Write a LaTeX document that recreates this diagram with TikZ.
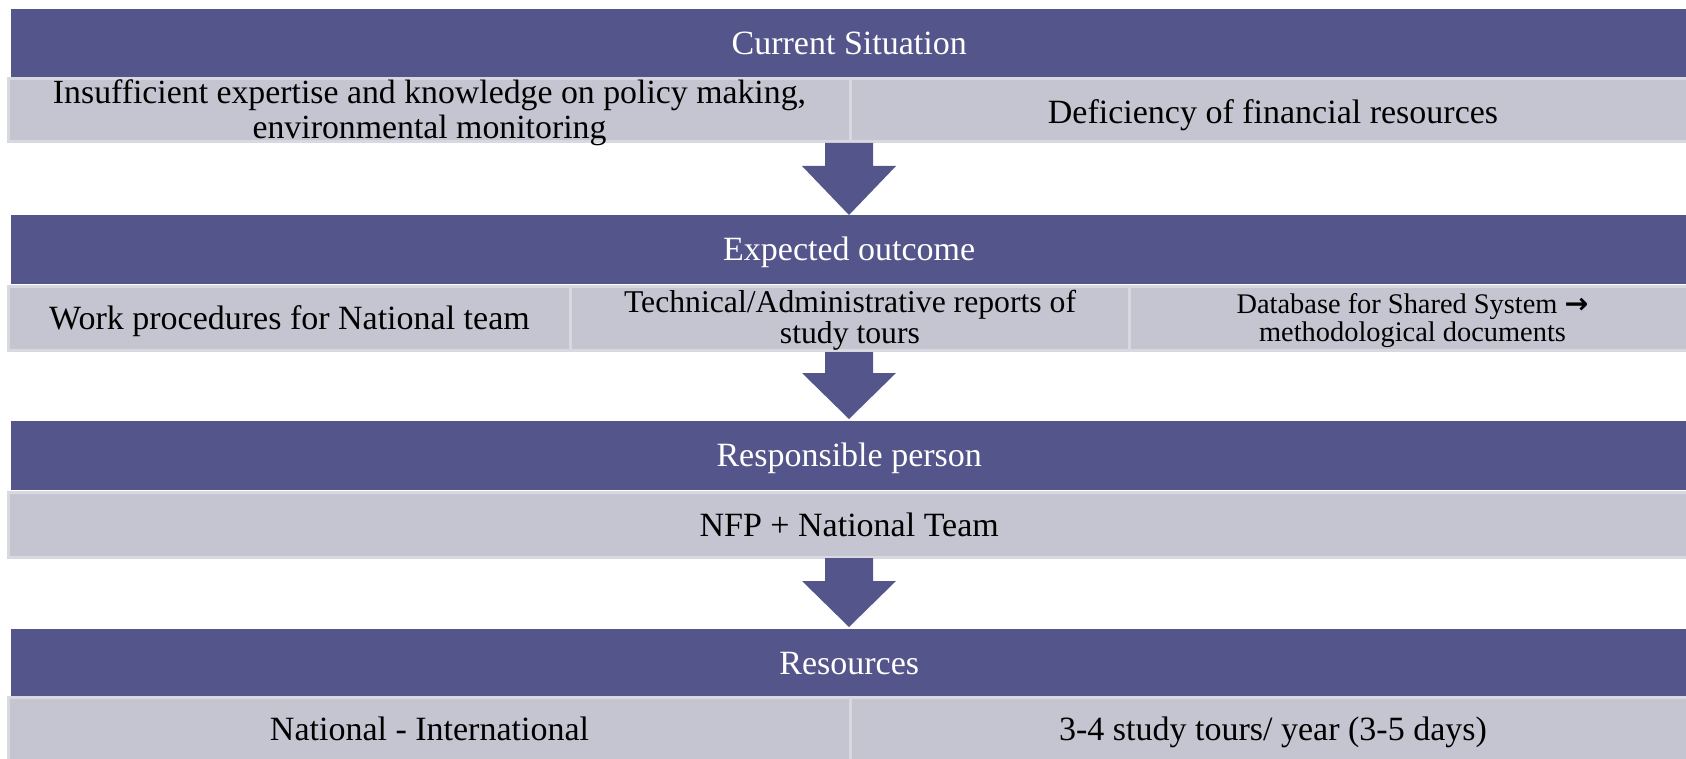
\documentclass[tikz,border=0pt]{standalone}
\usepackage{fontspec}
\setmainfont{Liberation Serif}
\newfontfamily\arrowfont{DejaVu Sans}
\definecolor{hdrcol}{HTML}{54558A}
\definecolor{cellcol}{HTML}{C5C5D2}
\definecolor{rimcol}{HTML}{D8D8E1}
\tikzset{
  hdr/.style={fill=hdrcol, draw=none, inner sep=0pt, anchor=north west,
    minimum height=68.5pt, minimum width=1676pt},
  hdrtext/.style={text=white, inner sep=0pt, text height=25pt, text depth=2.5pt,
    font=\fontsize{34}{36}\selectfont},
  cell/.style={fill=cellcol, draw=rimcol, line width=3pt, inner sep=0pt, anchor=north west,
    minimum height=63pt},
  celltext/.style={text=black, inner sep=0pt, text height=25pt, text depth=2.5pt,
    font=\fontsize{34}{36}\selectfont},
  celltwo/.style={text=black, inner sep=0pt, align=center},
  blockarrow/.style={fill=hdrcol, draw=none}
}
\begin{document}
\begin{tikzpicture}[x=1pt,y=-1pt]
\useasboundingbox (0,0) rectangle (1686,759);
\fill[white] (0,0) rectangle (1686,759);
% Section 1
\node[hdr] (h1) at (11,8.5) {};
\node[hdrtext] (th1) at (h1.center) {Current Situation};
\node[cell, minimum width=842pt] (c11) at (7,77) {};
\node[cell, minimum width=845pt] (c12) at (849,77) {};
\node[celltwo, yshift=-3pt, font=\fontsize{33.8}{35}\selectfont] (t11) at (c11.center) {Insufficient expertise and knowledge on policy making,\\environmental monitoring};
\node[celltext, yshift=-2pt] (t12) at (c12.center) {Deficiency of financial resources};
% Section 2
\node[hdr] (h2) at (11,215) {};
\node[hdrtext] (th2) at (h2.center) {Expected outcome};
\node[cell, minimum width=562pt, minimum height=64pt] (c21) at (7,285) {};
\node[cell, minimum width=559pt, minimum height=64pt] (c22) at (569,285) {};
\node[cell, minimum width=566pt, minimum height=64pt] (c23) at (1128,285) {};
\node[celltext] (t21) at (c21.center) {Work procedures for National team};
\node[celltwo, yshift=-2pt, font=\fontsize{31.7}{31}\selectfont] (t22) at (c22.center) {Technical/Administrative reports of\\study tours};
\node[celltwo, yshift=-2pt, font=\fontsize{28.4}{28}\selectfont] (t23) at (c23.center) {Database for Shared System {\arrowfont\bfseries →}\\methodological documents};
% Section 3
\node[hdr] (h3) at (11,421) {};
\node[hdrtext] (th3) at (h3.center) {Responsible person};
\node[cell, minimum width=1687pt, minimum height=65pt] (c31) at (7,491) {};
\node[celltext] (t31) at (c31.center -| h3.center) {NFP + National Team};
% Section 4
\node[hdr] (h4) at (11,629) {};
\node[hdrtext] (th4) at (h4.center) {Resources};
\node[cell, minimum width=842pt, minimum height=64pt] (c41) at (7,696) {};
\node[cell, minimum width=845pt, minimum height=64pt] (c42) at (849,696) {};
\node[celltext] (t41) at (c41.center) {National - International};
\node[celltext] (t42) at (c42.center) {3-4 study tours/ year (3-5 days)};
% Block arrows
\coordinate (a1top) at (849,143);
\coordinate (a1tip) at (849,215);
\coordinate (a2top) at (849,352);
\coordinate (a2tip) at (849,419);
\coordinate (a3top) at (849,558);
\coordinate (a3tip) at (849,627);
\fill[blockarrow] (a1top) ++(-24,0) -- ++(48,0) -- ++(0,23) -- ++(23,0) -- (a1tip) -- ++(-47,-49) -- ++(23,0) -- cycle;
\fill[blockarrow] (a2top) ++(-24,0) -- ++(48,0) -- ++(0,21) -- ++(23,0) -- (a2tip) -- ++(-47,-46) -- ++(23,0) -- cycle;
\fill[blockarrow] (a3top) ++(-24,0) -- ++(48,0) -- ++(0,23) -- ++(23,0) -- (a3tip) -- ++(-47,-46) -- ++(23,0) -- cycle;
\end{tikzpicture}
\end{document}
